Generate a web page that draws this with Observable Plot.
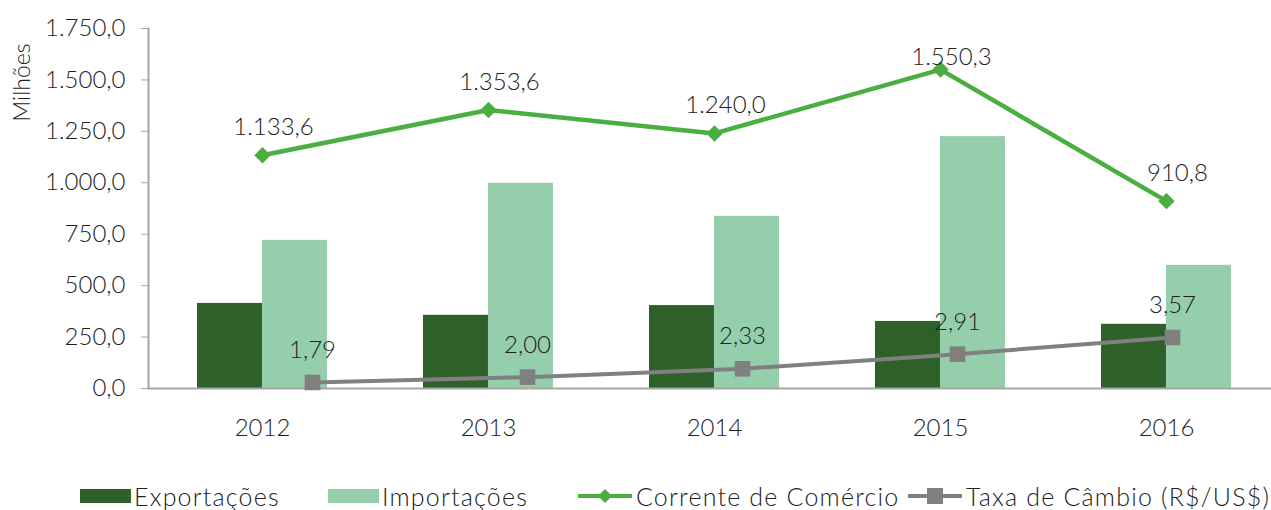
<!DOCTYPE html>
<html><head><meta charset="utf-8">
<script src="https://cdn.jsdelivr.net/npm/d3@7"></script>
<script src="https://cdn.jsdelivr.net/npm/@observablehq/plot@0.6"></script>
<style>
body{margin:0;background:#fff;font-family:Lato,"Open Sans",sans-serif;font-weight:300;color:#222;}
#wrap{position:relative;width:1271px;height:460px;}
#wrap svg{position:absolute;left:0;top:0;overflow:visible;}
#legend{position:relative;width:1271px;height:50px;font-size:25px;letter-spacing:1.2px;}
#legend .it{position:absolute;top:0;height:40px;display:flex;align-items:center;white-space:nowrap;}
#legend .sw{display:inline-block;}
</style></head><body>
<div id="wrap"></div>
<div id="legend"></div>
<script>
const years = ["2012", "2013", "2014", "2015", "2016"];
const exportacoes = [413.6, 356.0, 403.0, 326.0, 312.0];
const importacoes = [720.0, 997.6, 837.0, 1224.3, 598.8];
const corrente = [1133.6, 1353.6, 1240.0, 1550.3, 910.8];
const cambio = [1.79, 2.00, 2.33, 2.91, 3.57];
const yTicks = [0, 250, 500, 750, 1000, 1250, 1500, 1750];
const seriesNames = ["Exportações", "Importações", "Corrente de Comércio", "Taxa de Câmbio (R$/US$)"];
const axisTitle = "Milhões";

const C = {exp: "#2e6129", imp: "#95ceab", cor: "#4aae41", tax: "#808080", axis: "#a6a6a6", text: "#222"};
const loc = d3.formatLocale({decimal: ",", thousands: ".", grouping: [3], currency: ["R$", ""]});
const fmt1 = loc.format(",.1f");
const fmt2 = loc.format(",.2f");

const rows = years.map((y, i) => ({year: y, exp: exportacoes[i], imp: importacoes[i], cor: corrente[i], tax: cambio[i]}));

const W = 1271, H = 460, MT = 28, MB = 72, ML = 148, MR = -8;
const Y0 = 0, Y1 = 1750;
const pxPerUnit = (H - MT - MB) / (Y1 - Y0);
const pi = 0.425, po = 0.2125;
const step = (W - ML - MR) / (years.length - pi + 2 * po);
const half = step * (1 - pi) / 2;
// data labels sit above their point, but are kept inside the plot area (as the spreadsheet does)
const labelY = v => Math.min(v + 28 / pxPerUnit, Y1 - 29 / pxPerUnit);
const style = {fontFamily: "Lato, 'Open Sans', sans-serif", fontSize: "24px", fontWeight: 300, color: C.text, background: "transparent", overflow: "visible"};

const main = Plot.plot({
  width: W, height: H, marginTop: MT, marginBottom: MB, marginLeft: ML, marginRight: MR,
  style,
  x: {type: "band", domain: years, paddingInner: pi, paddingOuter: po, label: null},
  y: {domain: [Y0, Y1], label: null},
  marks: [
    Plot.barY(rows, {x: "year", y: "exp", fill: C.exp, insetRight: half}),
    Plot.barY(rows, {x: "year", y: "imp", fill: C.imp, insetLeft: half}),
    Plot.ruleY([0], {stroke: C.axis, strokeWidth: 2}),
    Plot.frame({anchor: "left", stroke: C.axis, strokeWidth: 2}),
    Plot.axisY({ticks: yTicks, tickFormat: fmt1, tickSize: 7, tickPadding: 16, stroke: C.axis, fill: C.text, label: null, fontSize: 24}),
    Plot.axisX({tickSize: 0, tickPadding: 30, label: null, fill: C.text, fontSize: 24}),
    Plot.text([axisTitle], {frameAnchor: "top-left", rotate: -90, textAnchor: "end", lineAnchor: "middle", dx: -126, dy: 15, fontSize: 23, fill: C.text}),
    Plot.line(rows, {x: "year", y: "cor", stroke: C.cor, strokeWidth: 4.5}),
    Plot.dot(rows, {x: "year", y: "cor", symbol: "diamond2", r: 7.4, fill: C.cor, stroke: null}),
    Plot.text(rows, {x: "year", y: d => labelY(d.cor), text: d => fmt1(d.cor), dx: 11, fontSize: 24, fill: C.text})
  ]
});

const sec = Plot.plot({
  width: W, height: H, marginTop: MT, marginBottom: MB, marginLeft: 311, marginRight: 99,
  style,
  x: {type: "point", domain: years, padding: 0, axis: null},
  y: {domain: [1.55, 15.8], axis: null},
  marks: [
    Plot.line(rows, {x: "year", y: "tax", stroke: C.tax, strokeWidth: 4}),
    Plot.dot(rows, {x: "year", y: "tax", symbol: "square", r: 8.8, fill: C.tax, stroke: null}),
    Plot.text(rows, {x: "year", y: "tax", text: d => fmt2(d.tax), dy: -32, fontSize: 24, fill: C.text})
  ]
});

const wrap = document.getElementById("wrap");
wrap.appendChild(main);
wrap.appendChild(sec);

// legend
const lg = document.getElementById("legend");
const items = [
  {name: seriesNames[0], left: 80, kind: "box", color: C.exp},
  {name: seriesNames[1], left: 328, kind: "box", color: C.imp},
  {name: seriesNames[2], left: 578, kind: "diamond", color: C.cor},
  {name: seriesNames[3], left: 908, kind: "square", color: C.tax}
];
for (const it of items) {
  const el = document.createElement("div");
  el.className = "it";
  el.style.left = it.left + "px";
  el.style.top = "16px";
  let sw;
  if (it.kind === "box") {
    sw = `<span class="sw" style="width:51px;height:14px;background:${it.color};margin-right:3px"></span>`;
  } else {
    const mk = it.kind === "diamond"
      ? `<path d="M27,1 L34,8 L27,15 L20,8 Z" fill="${it.color}"/>`
      : `<rect x="19" y="0" width="16" height="16" fill="${it.color}"/>`;
    sw = `<svg width="54" height="16" style="margin-right:4px"><line x1="0" x2="54" y1="8" y2="8" stroke="${it.color}" stroke-width="4"/>${mk}</svg>`;
  }
  el.innerHTML = sw + `<span>${it.name}</span>`;
  lg.appendChild(el);
}
</script>
</body></html>
